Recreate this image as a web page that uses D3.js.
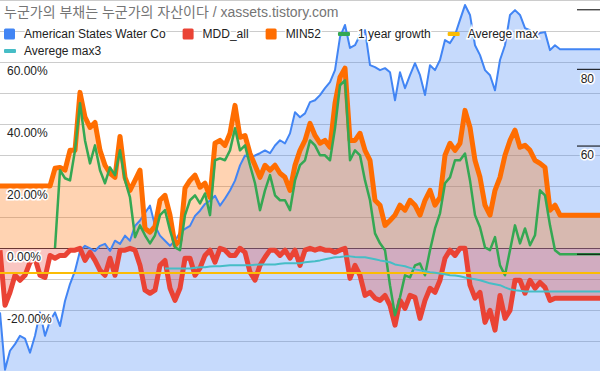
<!DOCTYPE html>
<html>
<head>
<meta charset="utf-8">
<script src="https://cdn.jsdelivr.net/npm/d3@7"></script>
<style>
  body { margin: 0; background: #fff; }
  svg { display: block; font-family: Arial, "Liberation Sans", "Noto Sans CJK KR", sans-serif; }
</style>
</head>
<body>
<div id="chart"></div>
<script>
// weekly samples (left to right)
var priceAWR = [32.1, 25.9, 27.8, 28.5, 29.4, 29.1, 27.6, 29.4, 32.1, 29.4,
  31.1, 32.1, 30.5, 33.5, 35.7, 37.5, 40.4, 41.2, 40.8, 40.4,
  41.2, 41.5, 40.4, 42.0, 41.5, 42.8, 42.0, 44.4, 45.3, 46.6,
  47.9, 44.4, 42.8, 42.0, 41.2, 42.0, 43.3, 43.9, 44.4, 46.1,
  47.0, 48.2, 48.8, 49.7, 47.9, 49.2, 50.7, 52.6, 55.7, 57.8,
  57.4, 57.8, 58.3, 58.9, 58.3, 60.0, 61.2, 60.5, 62.8, 68.0,
  66.7, 67.7, 70.6, 71.1, 72.5, 74.4, 76.1, 79.6, 90.1, 94.3,
  86.5, 87.4, 90.8, 92.5, 81.1, 80.5, 79.6, 80.2, 79.0, 71.1,
  79.0, 74.4, 78.1, 81.7, 78.1, 72.5, 81.1, 79.6, 82.7, 89.1,
  88.1, 90.8, 96.1, 101.6, 97.9, 87.4, 84.2, 79.6, 78.1, 73.8,
  82.7, 87.4, 97.9, 99.7, 97.9, 93.2, 92.5, 90.8, 91.5, 91.8,
  85.8, 87.4, 86.1, 86.1, 86.1, 86.1, 86.1, 86.1, 86.1, 86.1,
  86.1];

var mddAll = [-0.7, -18.5, -14.3, -8.8, -10.4, -8.8, -4.6, -3.3, -8.8, -9.5,
  -2.4, -3.3, -2.4, -2.4, -0.7, -0.7, -0.1, -4.0, -1.4, -4.0,
  -7.2, -8.8, -3.3, -8.8, -0.7, -0.7, -0.1, -0.7, -5.6, -13.6,
  -14.6, -13.6, -5.6, -4.0, -13.0, -16.9, -13.0, -3.3, -3.3, -8.8,
  -6.5, -2.4, -0.7, -4.6, -0.1, -0.7, -2.4, -2.4, -0.1, -1.4,
  -7.8, -10.4, -5.6, -3.0, -0.7, -0.7, -2.4, -0.7, -3.3, -0.7,
  -5.6, -0.7, -0.1, -0.7, -0.1, -0.7, -0.7, -1.4, -0.7, -0.1,
  -9.8, -5.6, -8.8, -15.3, -14.3, -16.2, -16.9, -15.3, -18.5, -24.9,
  -16.9, -19.5, -15.3, -15.9, -22.7, -16.9, -13.0, -14.3, -10.4, -3.3,
  -0.7, -2.4, -0.1, -0.1, -12.0, -16.2, -14.3, -24.0, -20.1, -26.5,
  -15.3, -22.7, -20.1, -10.4, -10.4, -14.6, -10.4, -13.0, -11.1, -12.7,
  -16.9, -16.2, -16.2, -16.2, -16.2, -16.2, -16.2, -16.2, -16.2, -16.2,
  -16.2];

var min52 = [20, 20, 20, 20, 20, 20, 20, 20, 20, 20,
  20, 25.7, 26.0, 25.1, 31.5, 31.5, 50.2, 42.2, 38.9, 40.5,
  31.5, 26.7, 24.1, 22.8, 36.0, 22.8, 18.6, 21.8, 25.1, 6.3,
  5.1, 7.0, 15.4, 17.0, 10.6, 0.9, 2.5, 19.3, 21.8, 23.5,
  19.6, 20.9, 16.3, 33.8, 34.7, 33.1, 37.0, 46.0, 35.7, 36.3,
  30.5, 26.7, 22.8, 26.7, 25.1, 26.7, 24.1, 22.8, 18.6, 26.7,
  31.5, 34.7, 40.2, 36.3, 33.8, 34.7, 32.5, 46.7, 55.1, 58.0,
  34.7, 34.7, 37.0, 31.5, 28.3, 15.4, 13.8, 7.3, 8.9, 10.6,
  13.8, 12.2, 15.4, 13.8, 10.6, 15.4, 18.6, 13.8, 16.3, 29.9,
  33.8, 31.5, 33.8, 44.4, 38.9, 28.3, 22.8, 13.8, 10.6, 18.6,
  22.8, 29.9, 34.7, 38.0, 32.5, 33.1, 31.5, 28.3, 27.3, 26.0,
  12.2, 13.8, 10.6, 10.6, 10.6, 10.6, 10.6, 10.6, 10.6, 10.6,
  10.6];

var growth1y = [null, null, null, null, null, null, null, null, null, null,
  null, 0, 25.1, 22.5, 21.8, 31.5, 46.7, 34.7, 27.3, 33.1,
  25.1, 20.9, 26.0, 23.5, 31.5, 21.8, 16.3, 3.5, 7.3, 4.1,
  1.5, 4.1, 10.6, 12.2, 5.7, 0.2, -0.7, 10.6, 15.4, 17.0,
  14.4, 17.6, 10.6, 28.3, 28.9, 28.3, 31.5, 38.6, 31.5, 33.1,
  26.7, 20.9, 12.2, 18.6, 23.5, 17.0, 15.4, 15.4, 12.2, 21.8,
  26.7, 28.3, 34.7, 33.1, 29.9, 29.9, 28.3, 38.6, 52.5, 54.1,
  28.3, 31.5, 29.9, 21.8, 15.4, 4.7, 1.5, -0.7, -12.0, -21.7,
  -15.9, -8.8, -9.5, -5.6, -5.0, -8.8, -0.7, 6.3, 11.2, 20.9,
  22.8, 28.3, 28.3, 30.5, 21.8, 10.6, 6.7, 0.2, -0.7, 3.5,
  -5.6, -8.8, -0.7, 7.3, 1.5, 6.3, 0.9, 4.1, 18.6, 17.0,
  7.3, -0.7, -2.0, -2.0, -2.0, -2.0, -2.0, -2.0, -2.0, -2.0,
  -2.0];

var avgMax = [-8.1, -8.1, -8.1, -8.1, -8.1, -8.1, -8.1, -8.1, -8.1, -8.1,
  -8.1, -8.1, -8.1, -8.1, -8.1, -8.1, -8.1, -8.1, -8.1, -8.1,
  -8.1, -8.1, -8.1, -8.1, -8.1, -8.1, -8.1, -8.1, -8.1, -8.1,
  -8.1, -8.1, -8.1, -8.1, -8.1, -8.1, -8.1, -8.1, -8.1, -8.1,
  -8.1, -8.1, -8.1, -8.1, -8.1, -8.1, -8.1, -8.1, -8.1, -8.1,
  -8.1, -8.1, -8.1, -8.1, -8.1, -8.1, -8.1, -8.1, -8.1, -8.1,
  -8.1, -8.1, -8.1, -8.1, -8.1, -8.1, -8.1, -8.1, -8.1, -8.1,
  -8.1, -8.1, -8.1, -8.1, -8.1, -8.1, -8.1, -8.1, -8.1, -8.1,
  -8.1, -8.1, -8.1, -8.1, -8.1, -8.1, -8.1, -8.1, -8.1, -8.1,
  -8.1, -8.1, -8.1, -8.1, -8.1, -8.1, -8.1, -8.1, -8.1, -8.1,
  -8.1, -8.1, -8.1, -8.1, -8.1, -8.1, -8.1, -8.1, -8.1, -8.1,
  -8.1, -8.1, -8.1, -8.1, -8.1, -8.1, -8.1, -8.1, -8.1, -8.1,
  -8.1];

var avgMax3 = [null, null, null, null, null, null, null, null, null, null,
  null, null, null, null, null, null, null, null, null, null,
  null, null, null, null, null, null, null, null, null, null,
  null, null, null, -6.6, -6.6, -6.6, -6.6, -6.6, -6.6, -6.4,
  -6.2, -6.2, -6.0, -5.9, -5.9, -5.7, -5.6, -5.6, -5.6, -5.6,
  -5.6, -5.4, -5.3, -5.3, -5.3, -5.3, -5.1, -4.9, -4.9, -4.9,
  -4.9, -4.6, -4.4, -4.3, -4.0, -3.6, -3.3, -3.0, -2.9, -2.7,
  -2.7, -2.9, -3.0, -3.0, -3.3, -3.6, -4.0, -4.3, -4.6, -5.3,
  -5.6, -5.9, -6.4, -6.9, -7.2, -7.5, -7.8, -8.0, -8.2, -8.5,
  -8.8, -8.9, -9.1, -9.5, -9.8, -10.1, -10.4, -10.9, -11.4, -11.7,
  -12.0, -12.7, -13.3, -13.6, -13.8, -14.0, -14.0, -14.0, -14.0, -14.0,
  -14.0, -14.0, -14.0, -14.0, -14.0, -14.0, -14.0, -14.0, -14.0, -14.0,
  -14.0];

var titleText = "누군가의 부채는 누군가의 자산이다 / xassets.tistory.com";
var legendNames = ["American States Water Co", "MDD_all", "MIN52", "1 year growth", "Averege max", "Averege max3"];
var legendColors = ["#4285f4", "#ea4335", "#ff6d01", "#34a853", "#fbbc04", "#46bdc6"];
var legendKinds = ["area", "area", "area", "line", "line", "line"];
var gridTicks = [-40, -30, -20, -10, 10, 20, 30, 40, 50, 60, 70, 80];
var leftLabelTicks = [-20, 0, 20, 40, 60];
var rightTicks = [100, 80, 60, 40];
var rightLabels = [80, 60];

var width = 600, height = 371;

var svg = d3.select("#chart")
  .append("svg")
    .attr("width", width)
    .attr("height", height);

var x = d3.scaleLinear().domain([0, priceAWR.length - 1]).range([0, width]);
var y = d3.scaleLinear().domain([-40, 80]).range([372, 0]);
var yR = d3.scaleLog().domain([40, 100]).range([253.7, 9.3]);

// gridlines
svg.append("g")
  .call(d3.axisLeft(y).tickValues(gridTicks).tickSize(-width).tickFormat(""))
  .call(function(g) { g.select(".domain").remove(); })
  .selectAll("line").attr("stroke", "#cccccc");

// zero baseline
svg.append("line")
  .attr("x1", 0).attr("x2", width)
  .attr("y1", Math.round(y(0)) + 0.5).attr("y2", Math.round(y(0)) + 0.5)
  .attr("stroke", "#333").attr("stroke-width", 1);

// fills first: stock price down to the bottom, MDD_all and MIN52 to zero
svg.append("path")
  .datum(priceAWR)
  .attr("fill", "#4285f4").attr("fill-opacity", 0.3)
  .attr("d", d3.area()
    .x(function(d, i) { return x(i); })
    .y0(height)
    .y1(function(d) { return yR(d); }));

function zeroArea(data, color) {
  svg.append("path")
    .datum(data)
    .attr("fill", color).attr("fill-opacity", 0.3)
    .attr("d", d3.area()
      .x(function(d, i) { return x(i); })
      .y0(y(0))
      .y1(function(d) { return y(d); }));
}
zeroArea(mddAll, "#ea4335");
zeroArea(min52, "#ff6d01");

// then the lines
svg.append("path")
  .datum(priceAWR)
  .attr("fill", "none").attr("stroke", "#4285f4").attr("stroke-width", 2)
  .attr("stroke-linejoin", "round")
  .attr("d", d3.line()
    .x(function(d, i) { return x(i); })
    .y(function(d) { return yR(d); }));

function lineSeries(data, color, lw) {
  svg.append("path")
    .datum(data)
    .attr("fill", "none").attr("stroke", color).attr("stroke-width", lw)
    .attr("stroke-linejoin", "round")
    .attr("d", d3.line()
      .defined(function(d) { return d != null; })
      .x(function(d, i) { return x(i); })
      .y(function(d) { return y(d); }));
}
lineSeries(mddAll, "#ea4335", 5);
lineSeries(min52, "#ff6d01", 5);
lineSeries(growth1y, "#34a853", 2.5);
lineSeries(avgMax, "#fbbc04", 2);
lineSeries(avgMax3, "#46bdc6", 2);

// left axis labels, inside the plot
svg.append("g")
  .attr("font-family", null).attr("font-size", null)
  .call(d3.axisRight(y).tickValues(leftLabelTicks).tickSize(0).tickPadding(7)
    .tickFormat(function(d) { return d.toFixed(2) + "%"; }))
  .call(function(g) { g.select(".domain").remove(); })
  .selectAll("text")
    .attr("dy", "1.08em")
    .attr("font-size", 12).attr("fill", "#222")
    .attr("stroke", "#fff").attr("stroke-width", 3).attr("paint-order", "stroke");

// right axis (log), short black ticks
svg.append("g")
  .attr("transform", "translate(" + width + ",0)")
  .attr("font-family", null).attr("font-size", null)
  .call(d3.axisLeft(yR).tickValues(rightTicks).tickSize(23)
    .tickFormat(function(d) { return rightLabels.indexOf(d) >= 0 ? d : ""; }))
  .call(function(g) { g.select(".domain").remove(); })
  .call(function(g) { g.selectAll("line").attr("stroke", "#000"); })
  .selectAll("text")
    .attr("x", -6).attr("dy", "1.1em")
    .attr("font-size", 12).attr("fill", "#222")
    .attr("stroke", "#fff").attr("stroke-width", 3).attr("paint-order", "stroke");

// title
svg.append("text")
  .attr("x", 4).attr("y", 17)
  .attr("font-size", 14).attr("fill", "#757575")
  .text(titleText);

// legend
var lx = 4, ly = 34;
legendNames.forEach(function(name, i) {
  if (i === 5) { lx = 4; ly = 51; }
  if (legendKinds[i] === "area") {
    svg.append("rect").attr("x", lx).attr("y", ly - 5.5).attr("width", 11).attr("height", 11)
      .attr("rx", 1.5).attr("fill", legendColors[i]);
  } else {
    svg.append("rect").attr("x", lx).attr("y", ly - 2).attr("width", 12).attr("height", 4)
      .attr("rx", 1).attr("fill", legendColors[i]);
  }
  var t = svg.append("text")
    .attr("x", lx + 20).attr("y", ly + 4)
    .attr("font-size", 12).attr("fill", "#222")
    .attr("stroke", "#fff").attr("stroke-width", 3).attr("paint-order", "stroke")
    .text(name);
  lx = lx + 20 + t.node().getComputedTextLength() + 17;
});
</script>
</body>
</html>
